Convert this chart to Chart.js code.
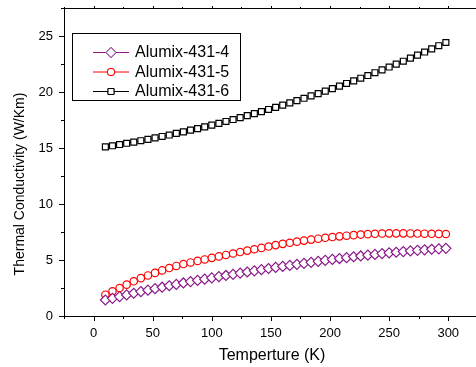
<!DOCTYPE html>
<html>
<head>
<meta charset="utf-8">
<script src="https://cdn.jsdelivr.net/npm/chart.js@4"></script>
<style>
  html, body { margin: 0; padding: 0; background: #fff; overflow: hidden; }
  #wrap { width: 484px; height: 367px; }
</style>
</head>
<body>
<div id="wrap"><canvas id="tcChart" width="484" height="367"></canvas></div>
<script>
// Temperature (K)
const temps = [10, 16, 22, 28, 34, 40, 46, 52, 58, 64, 70, 76, 82, 88, 94, 100, 106, 112, 118, 124,
  130, 136, 142, 148, 154, 160, 166, 172, 178, 184, 190, 196, 202, 208, 214, 220, 226, 232, 238, 244,
  250, 256, 262, 268, 274, 280, 286, 292, 298];

// Thermal conductivity (W/Km)
const alumix4 = [1.43, 1.58, 1.73, 1.88, 2.03, 2.18, 2.31, 2.44, 2.57, 2.70, 2.82, 2.95, 3.07, 3.18, 3.29, 3.40,
  3.51, 3.62, 3.72, 3.83, 3.93, 4.03, 4.14, 4.24, 4.34, 4.43, 4.52, 4.61, 4.70, 4.79, 4.88, 4.96, 5.05, 5.13,
  5.21, 5.29, 5.36, 5.43, 5.50, 5.57, 5.63, 5.69, 5.75, 5.81, 5.86, 5.91, 5.96, 6.00, 6.04];
const alumix5 = [1.90, 2.20, 2.50, 2.80, 3.10, 3.38, 3.62, 3.85, 4.07, 4.28, 4.47, 4.64, 4.78, 4.92, 5.05, 5.19,
  5.32, 5.45, 5.58, 5.71, 5.84, 5.96, 6.08, 6.20, 6.33, 6.44, 6.54, 6.64, 6.73, 6.82, 6.90, 6.98, 7.05, 7.11,
  7.17, 7.22, 7.27, 7.31, 7.34, 7.36, 7.38, 7.38, 7.38, 7.37, 7.36, 7.35, 7.34, 7.33, 7.32];
const alumix6 = [15.10, 15.20, 15.31, 15.42, 15.53, 15.65, 15.77, 15.90, 16.03, 16.16, 16.30, 16.44, 16.59, 16.73,
  16.89, 17.04, 17.20, 17.37, 17.54, 17.71, 17.89, 18.07, 18.25, 18.44, 18.63, 18.83, 19.03, 19.23, 19.44, 19.65,
  19.86, 20.08, 20.30, 20.53, 20.76, 20.99, 21.23, 21.47, 21.72, 21.97, 22.23, 22.49, 22.75, 23.02, 23.29, 23.57,
  23.85, 24.13, 24.42];

const seriesNames = ['Alumix-431-4', 'Alumix-431-5', 'Alumix-431-6'];
const xTickLabels = [0, 50, 100, 150, 200, 250, 300];
const xMinorTicks = [-25, 25, 75, 125, 175, 225, 275, 325];
const yTickLabels = [0, 5, 10, 15, 20, 25];
const yMinorTicks = [2.5, 7.5, 12.5, 17.5, 22.5, 27.5];

const FONT = 'Arial, "Liberation Sans", sans-serif';
const colors = ['#8a1a8a', '#ff0000', '#000000'];
const shapes = ['rectRot', 'circle', 'rect'];
const radii = [5, 3.7, 4.2];

const pts = arr => arr.map((v, i) => ({ x: temps[i], y: v }));

// frame, tick marks, axis titles and boxed legend
const decor = {
  id: 'decor',
  afterDraw(chart) {
    const ctx = chart.ctx;
    const a = chart.chartArea;
    const xs = chart.scales.x, ys = chart.scales.y;
    ctx.save();
    ctx.strokeStyle = '#000';
    ctx.lineWidth = 1;
    ctx.beginPath();
    ctx.moveTo(a.left + 0.5, a.top);
    ctx.lineTo(a.left + 0.5, a.bottom + 0.5);
    ctx.lineTo(a.right, a.bottom + 0.5);
    ctx.moveTo(a.left, a.top + 0.5);
    ctx.lineTo(a.right, a.top + 0.5);
    ctx.moveTo(a.right - 0.5, a.top);
    ctx.lineTo(a.right - 0.5, a.bottom);
    xTickLabels.forEach(v => {
      const p = Math.round(xs.getPixelForValue(v)) + 0.5;
      ctx.moveTo(p, a.bottom); ctx.lineTo(p, a.bottom + 5);
      ctx.moveTo(p, a.top); ctx.lineTo(p, a.top - 2);
    });
    xMinorTicks.forEach(v => {
      const p = Math.round(xs.getPixelForValue(v)) + 0.5;
      ctx.moveTo(p, a.bottom); ctx.lineTo(p, a.bottom + 3);
      ctx.moveTo(p, a.top); ctx.lineTo(p, a.top - 1);
    });
    yTickLabels.forEach(v => {
      const p = Math.round(ys.getPixelForValue(v)) + 0.5;
      ctx.moveTo(a.left, p); ctx.lineTo(a.left - 5, p);
    });
    yMinorTicks.forEach(v => {
      const p = Math.round(ys.getPixelForValue(v)) + 0.5;
      ctx.moveTo(a.left, p); ctx.lineTo(a.left - 3, p);
    });
    ctx.stroke();

    // axis titles
    ctx.fillStyle = '#000';
    ctx.font = '16px ' + FONT;
    ctx.textAlign = 'center';
    ctx.textBaseline = 'middle';
    ctx.fillText('Temperture (K)', 272, 356);
    ctx.save();
    ctx.translate(20, 184);
    ctx.rotate(-Math.PI / 2);
    ctx.font = '14px ' + FONT;
    ctx.fillText('Thermal Conductivity (W/Km)', 0, 0);
    ctx.restore();

    // legend
    ctx.fillStyle = '#fff';
    ctx.fillRect(72, 33, 168, 67);
    ctx.strokeStyle = '#000';
    ctx.strokeRect(72.5, 33.5, 168, 67);
    chart.data.datasets.forEach((ds, i) => {
      const y = 52.5 + i * 19.5;
      ctx.strokeStyle = ds.borderColor;
      ctx.lineWidth = 1;
      ctx.beginPath();
      ctx.moveTo(93, y); ctx.lineTo(129, y);
      ctx.stroke();
      Chart.helpers.drawPoint(ctx, {
        pointStyle: ds.pointStyle, radius: ds.pointRadius, borderWidth: 1.2, rotation: 0
      }, 111, y);
      ctx.fillStyle = '#fff';
      ctx.fill();
      ctx.stroke();
      ctx.fillStyle = '#000';
      ctx.font = '16px ' + FONT;
      ctx.textAlign = 'left';
      ctx.fillText(ds.label, 135, y + 0.5);
    });
    ctx.restore();
  }
};

new Chart(document.getElementById('tcChart'), {
  type: 'line',
  data: {
    datasets: [alumix4, alumix5, alumix6].map((s, i) => ({
      label: seriesNames[i],
      data: pts(s),
      borderColor: colors[i],
      backgroundColor: '#fff',
      borderWidth: 1,
      pointStyle: shapes[i],
      pointRadius: radii[i],
      pointBorderWidth: 1.2,
      pointBackgroundColor: '#fff',
      pointBorderColor: colors[i],
      tension: 0,
      fill: false
    }))
  },
  options: {
    responsive: false,
    animation: false,
    layout: { padding: { left: 0, right: 1, top: 8, bottom: 0 } },
    plugins: {
      legend: { display: false },
      tooltip: { enabled: false }
    },
    scales: {
      x: {
        type: 'linear',
        min: -25,
        max: 325,
        afterBuildTicks: s => { s.ticks = xTickLabels.map(v => ({ value: v })); },
        afterFit: s => { s.height = 51; s.paddingLeft = 0; s.paddingRight = 0; },
        grid: { display: false, drawTicks: false },
        border: { display: false },
        ticks: { color: '#000', padding: 10, maxRotation: 0, font: { size: 13, family: FONT } }
      },
      y: {
        min: 0,
        max: 27.5,
        afterBuildTicks: s => { s.ticks = yTickLabels.map(v => ({ value: v })); },
        afterFit: s => { s.width = 64; s.paddingTop = 0; s.paddingBottom = 0; },
        grid: { display: false, drawTicks: false },
        border: { display: false },
        ticks: { color: '#000', padding: 11, font: { size: 13, family: FONT } }
      }
    }
  },
  plugins: [decor]
});
</script>
</body>
</html>
